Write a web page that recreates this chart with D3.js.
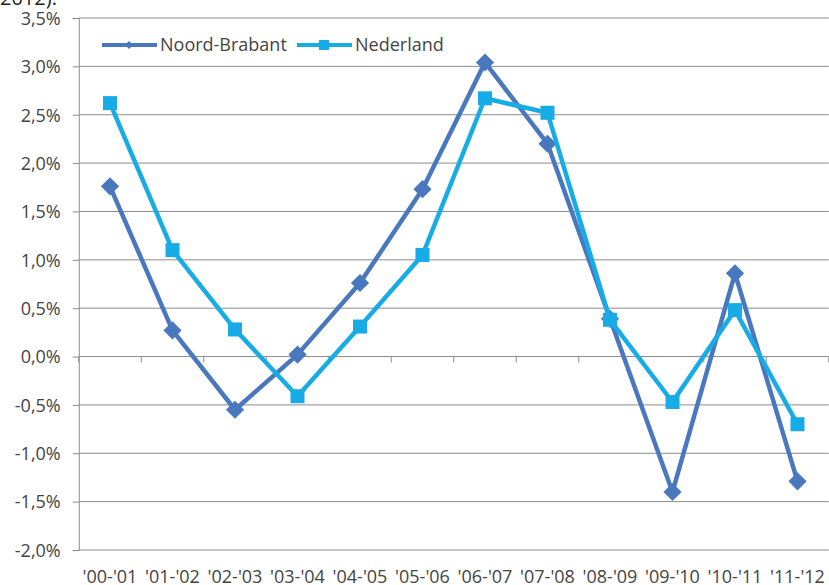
<!DOCTYPE html>
<html>
<head>
<meta charset="utf-8">
<script src="https://cdn.jsdelivr.net/npm/d3@7"></script>
<style>
  html, body { margin: 0; padding: 0; background: #fff; }
  svg { display: block; }
  text { font-family: "Open Sans", "Noto Sans", sans-serif; }
</style>
</head>
<body>
<svg id="chart" width="829" height="585"></svg>
<script>
// Year-on-year change, Noord-Brabant vs Nederland
const categories = ["'00-'01", "'01-'02", "'02-'03", "'03-'04", "'04-'05", "'05-'06",
                    "'06-'07", "'07-'08", "'08-'09", "'09-'10", "'10-'11", "'11-'12"];
const noordBrabant = [1.76, 0.27, -0.55, 0.02, 0.76, 1.73, 3.04, 2.20, 0.39, -1.40, 0.86, -1.29];
const nederland    = [2.62, 1.10, 0.28, -0.41, 0.31, 1.05, 2.67, 2.52, 0.38, -0.47, 0.48, -0.70];
const yTicks = [-2.0, -1.5, -1.0, -0.5, 0.0, 0.5, 1.0, 1.5, 2.0, 2.5, 3.0, 3.5];
const seriesNames = ["Noord-Brabant", "Nederland"];

const svg = d3.select("#chart");
const plotLeft = 78.75, plotRight = 828.75, plotTop = 18, plotBottom = 550;
const fontSize = 18;

const x = d3.scaleBand().domain(categories).range([plotLeft, plotRight]);
const y = d3.scaleLinear().domain([-2.0, 3.5]).range([plotBottom, plotTop]);
const fmt = v => d3.format(".1f")(v).replace(".", ",").replace("−", "-") + "%";

// caption fragment above the chart
svg.append("text").attr("x", 0).attr("y", 5)
  .attr("font-size", 20).attr("fill", "#222").text("2012).");

// horizontal gridlines
svg.append("g").selectAll("line").data(yTicks).join("line")
  .attr("x1", plotLeft).attr("x2", plotRight)
  .attr("y1", d => y(d)).attr("y2", d => y(d))
  .attr("stroke", "#8c8c8c").attr("stroke-width", 1);

// value axis
const yAxis = d3.axisLeft(y).tickValues(yTicks).tickSize(6).tickFormat(fmt);
const gy = svg.append("g").attr("transform", `translate(${plotLeft},0)`).call(yAxis);
gy.select(".domain").attr("stroke", "#8c8c8c");
gy.selectAll(".tick line").attr("stroke", "#8c8c8c");
gy.selectAll(".tick text").attr("font-size", fontSize).attr("fill", "#444")
  .attr("font-family", "'Open Sans', sans-serif")
  .attr("x", -18).attr("dy", "0.35em");

// category axis line at zero with boundary ticks
const boundaries = d3.range(categories.length + 1).map(i => plotLeft + i * x.bandwidth());
svg.append("g").selectAll("line").data(boundaries).join("line")
  .attr("x1", d => d).attr("x2", d => d)
  .attr("y1", y(0)).attr("y2", y(0) + 6)
  .attr("stroke", "#8c8c8c");

// category labels at the bottom
svg.append("g").selectAll("text").data(categories).join("text")
  .attr("x", d => x(d) + x.bandwidth() / 2).attr("y", 583)
  .attr("text-anchor", "middle").attr("font-size", fontSize).attr("fill", "#444")
  .text(d => d);

const line = d3.line()
  .x((d, i) => x(categories[i]) + x.bandwidth() / 2)
  .y(d => y(d));

const colNB = "#4a78be", colNL = "#17ace6";

// Noord-Brabant series
svg.append("path").datum(noordBrabant).attr("d", line)
  .attr("fill", "none").attr("stroke", colNB).attr("stroke-width", 4.5)
  .attr("stroke-linejoin", "round");
const diamond = d3.symbol().type(d3.symbolSquare).size(165);
svg.append("g").selectAll("path").data(noordBrabant).join("path")
  .attr("d", diamond)
  .attr("transform", (d, i) => `translate(${x(categories[i]) + x.bandwidth() / 2},${y(d)}) rotate(45)`)
  .attr("fill", colNB);

// Nederland series
svg.append("path").datum(nederland).attr("d", line)
  .attr("fill", "none").attr("stroke", colNL).attr("stroke-width", 4.5)
  .attr("stroke-linejoin", "round");
svg.append("g").selectAll("rect").data(nederland).join("rect")
  .attr("x", (d, i) => x(categories[i]) + x.bandwidth() / 2 - 7)
  .attr("y", d => y(d) - 7)
  .attr("width", 14).attr("height", 14)
  .attr("fill", colNL);

// legend
const legend = svg.append("g");
const ly = 45;
legend.append("line").attr("x1", 102).attr("x2", 157).attr("y1", ly).attr("y2", ly)
  .attr("stroke", colNB).attr("stroke-width", 4);
legend.append("path").attr("d", d3.symbol().type(d3.symbolSquare).size(32))
  .attr("transform", `translate(129,${ly}) rotate(45)`).attr("fill", colNB);
legend.append("text").attr("x", 160).attr("y", ly).attr("dy", "0.35em")
  .attr("font-size", fontSize).attr("fill", "#444").text(seriesNames[0]);
legend.append("line").attr("x1", 297).attr("x2", 352).attr("y1", ly).attr("y2", ly)
  .attr("stroke", colNL).attr("stroke-width", 4);
legend.append("rect").attr("x", 319).attr("y", ly - 5).attr("width", 10).attr("height", 10)
  .attr("fill", colNL);
legend.append("text").attr("x", 355).attr("y", ly).attr("dy", "0.35em")
  .attr("font-size", fontSize).attr("fill", "#444").text(seriesNames[1]);
</script>
</body>
</html>
